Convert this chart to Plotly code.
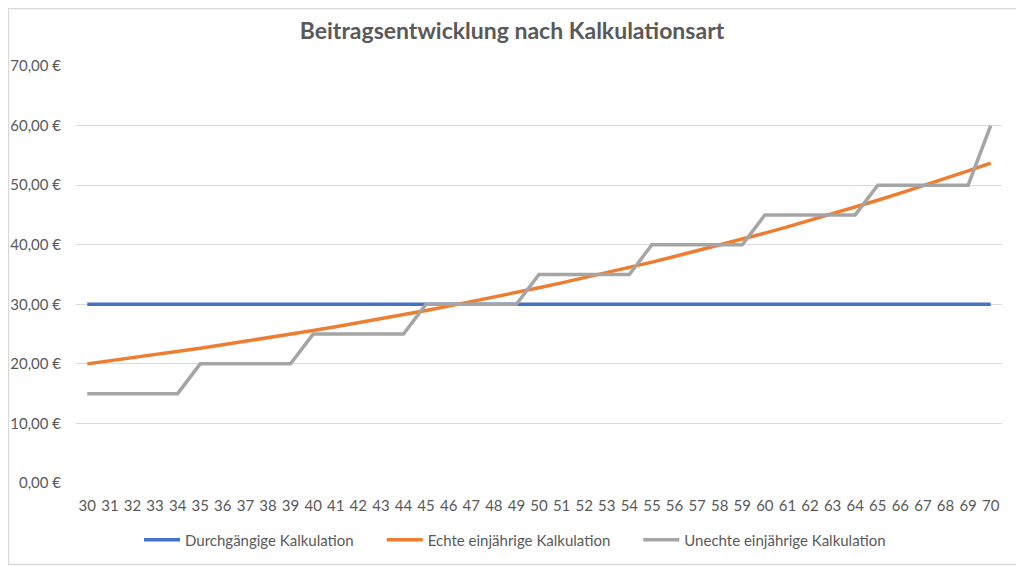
import plotly.graph_objects as go

ages = [str(a) for a in range(30, 71)]

durchgaengig = [30.00] * 41

echte = [20.00, 20.50, 21.01, 21.54, 22.08, 22.63, 23.19, 23.77, 24.37, 24.98,
         25.60, 26.24, 26.90, 27.57, 28.26, 28.97, 29.69, 30.43, 31.19, 31.97,
         32.77, 33.59, 34.43, 35.29, 36.18, 37.08, 38.01, 38.96, 39.93, 40.93,
         41.95, 43.00, 44.08, 45.18, 46.31, 47.46, 48.65, 49.87, 51.11, 52.39,
         53.70]

unechte = [15, 15, 15, 15, 15, 20, 20, 20, 20, 20,
           25, 25, 25, 25, 25, 30, 30, 30, 30, 30,
           35, 35, 35, 35, 35, 40, 40, 40, 40, 40,
           45, 45, 45, 45, 45, 50, 50, 50, 50, 50,
           60]

names = ['Durchgängige Kalkulation', 'Echte einjährige Kalkulation', 'Unechte einjährige Kalkulation']
colors = ['#4472C4', '#ED7D31', '#A5A5A5']

# the page puts the figure 8px in from the top left corner
off = 8
W, H = 1024 - off, 566 - off
ml, mr, mt, mb = 76 - off, 22, 66 - off, 83
pw, ph = W - ml - mr, H - mt - mb

fig = go.Figure()
for i, (name, vals, col) in enumerate(zip(names, [durchgaengig, echte, unechte], colors)):
    pad = '\u00a0' * 6 if i < 2 else ''
    fig.add_trace(go.Scatter(x=ages, y=vals, name=name + pad, mode='lines',
                             line=dict(color=col, width=3.5)))

# thin frame round the picture
fig.add_shape(type='rect', xref='paper', yref='paper',
              x0=(0.5 - ml) / pw, x1=(W - 1.5 - ml) / pw,
              y0=-(H - 1.5 - mt - ph) / ph, y1=(mt + ph - 0.5) / ph,
              line=dict(color='#D9D9D9', width=1.5))

fig.update_layout(
    width=W, height=H,
    margin=dict(l=ml, r=mr, t=mt, b=mb, autoexpand=False),
    paper_bgcolor='white', plot_bgcolor='white',
    font=dict(family='Lato', size=15, color='#595959'),
    separators=',.',
    title=dict(text='<b>Beitragsentwicklung nach Kalkulationsart</b>',
               x=(512 - off - ml) / pw, xref='paper', xanchor='center',
               y=1 - (31 - off) / H, yanchor='middle',
               font=dict(size=23, color='#595959')),
    xaxis=dict(type='category', range=[-0.5, 40.5], showgrid=False,
               showline=False, ticks='', ticklabelstandoff=12, automargin=False,
               tickfont=dict(size=15)),
    yaxis=dict(range=[0, 70], dtick=10, tickformat='.2f', ticksuffix=' €',
               showgrid=True, gridcolor='#D9D9D9', gridwidth=1,
               zeroline=False, showline=False, ticklabelstandoff=14,
               automargin=False, tickfont=dict(size=15)),
    legend=dict(orientation='h', x=(515 - off - ml) / pw, xanchor='center',
                y=-(540 - off - mt - ph) / ph, yanchor='middle',
                font=dict(size=15), itemwidth=36, tracegroupgap=0),
    showlegend=True,
)

fig.write_html('out.html')
